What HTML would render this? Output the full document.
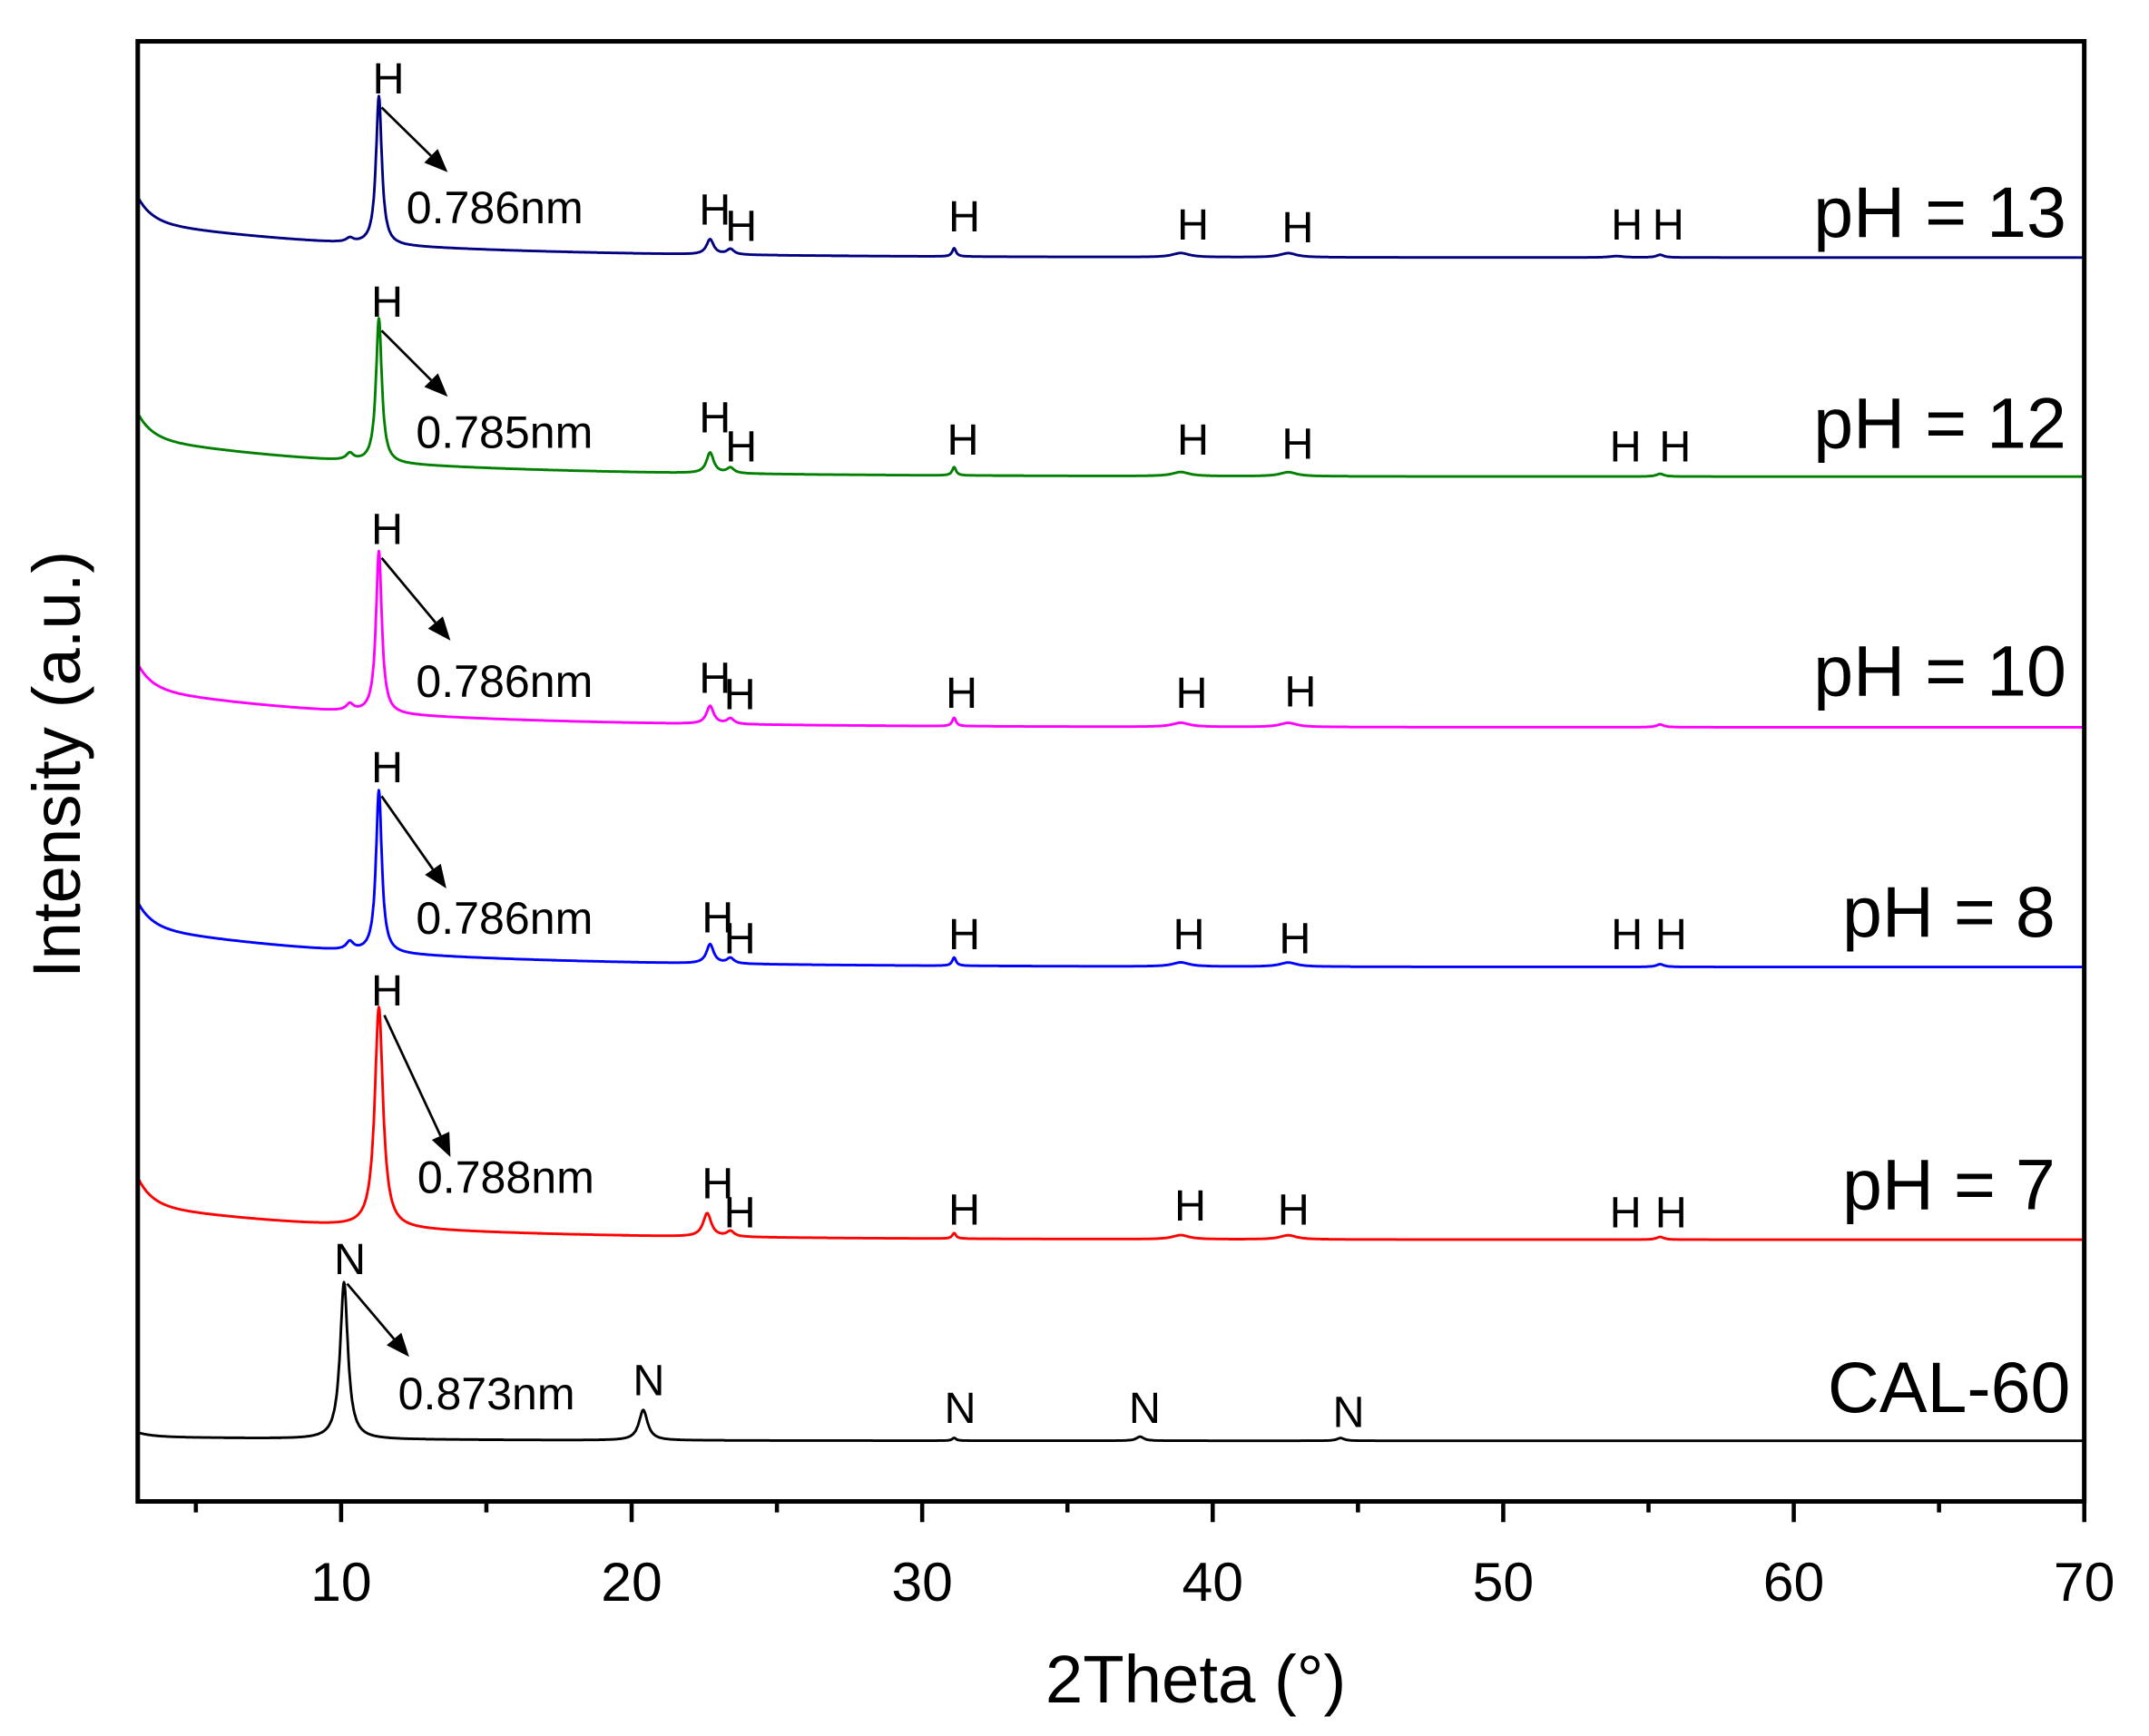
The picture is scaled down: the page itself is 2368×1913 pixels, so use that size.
<!DOCTYPE html>
<html><head><meta charset="utf-8"><style>html,body{margin:0;padding:0;background:#fff}svg{display:block}</style></head>
<body>
<svg id="s" xmlns="http://www.w3.org/2000/svg" width="2368" height="1913" viewBox="0 0 1560 1260.3" preserveAspectRatio="none" font-family="Liberation Sans, Arial, sans-serif">
<rect width="1560" height="1261" fill="#fff"/>
<g id="curves" fill="none" stroke-width="1.9" stroke-linejoin="round"></g>
<g id="ann"></g>
<rect x="100" y="30" width="1413" height="1060" fill="none" stroke="#000" stroke-width="3.3"/>
<g id="ticks" stroke="#000" stroke-width="3"></g>
<g font-size="40" text-anchor="middle" fill="#000">
<text x="247.6" y="1162">10</text><text x="458.5" y="1162">20</text><text x="669.4" y="1162">30</text>
<text x="880.3" y="1162">40</text><text x="1091.2" y="1162">50</text><text x="1302.1" y="1162">60</text><text x="1513" y="1162">70</text>
</g>
<text x="868" y="1236" font-size="49" text-anchor="middle">2Theta (°)</text>
<text transform="translate(58,555) rotate(-90)" font-size="49" text-anchor="middle">Intensity (a.u.)</text>
<g font-size="52" text-anchor="end">
<text x="1500" y="172">pH = 13</text>
<text x="1500" y="325">pH = 12</text>
<text x="1500" y="505">pH = 10</text>
<text x="1492" y="680">pH = 8</text>
<text x="1492" y="878">pH = 7</text>
<text x="1503" y="1025">CAL-60</text>
</g>
</svg>
<script>
var NS="http://www.w3.org/2000/svg";
function X(x){return 100+(x-3)*21.09;}
function el(t,a,p){var e=document.createElementNS(NS,t);for(var k in a)e.setAttribute(k,a[k]);p.appendChild(e);return e;}
var series=[
 {c:"#000080",R:187,A:18,B:26,p:[[11.3,108,0.12],[10.3,3,0.15],[22.7,11,0.15],[23.4,4,0.15],[31.1,6,0.08],[38.9,3,0.35],[42.6,3,0.35],[55.4,2,0.15],[53.9,1,0.3]]},
 {c:"#008000",R:346,A:18,B:28,p:[[11.3,105,0.12],[10.3,5,0.15],[22.7,15,0.15],[23.4,4,0.15],[31.1,6,0.08],[38.9,3,0.35],[42.6,3,0.35],[55.4,2,0.15]]},
 {c:"#ff00ff",R:528,A:18,B:28,p:[[11.3,118,0.12],[10.3,5,0.15],[22.7,13,0.15],[23.4,4,0.15],[31.1,6,0.08],[38.9,3,0.35],[42.6,3,0.35],[55.4,2,0.15]]},
 {c:"#0000ff",R:702,A:18,B:29,p:[[11.3,118,0.12],[10.3,6,0.15],[22.7,14,0.15],[23.4,4,0.15],[31.1,6,0.08],[38.9,3,0.35],[42.6,3,0.35],[55.4,2,0.15]]},
 {c:"#ff0000",R:900,A:20,B:25,p:[[11.3,160,0.17],[22.6,17,0.17],[23.4,4,0.15],[31.1,4,0.08],[38.9,3,0.35],[42.6,3,0.35],[55.4,2,0.15]]},
 {c:"#000000",R:1046,A:3,B:3,p:[[10.1,114,0.16],[20.4,22,0.18],[31.1,2,0.08],[37.5,3,0.15],[44.4,2,0.15]]}
];
var g=document.getElementById("curves");
series.forEach(function(s){
 var d="";
 for(var x=3;x<=70.001;x+=0.02){
  var y=s.R-(s.A*Math.exp(-(x-3)/0.5)+s.B*Math.exp(-(x-3)/8));
  s.p.forEach(function(p){var u=(x-p[0])/p[2];y-=p[1]/(1+u*u);});
  d+=(d?"L":"M")+X(x).toFixed(1)+" "+y.toFixed(1);
 }
 el("path",{d:d,stroke:s.c},g);
});
var t=document.getElementById("ticks");
for(var v=5;v<=70;v+=5){var maj=v%10==0;el("line",{x1:X(v),y1:1090,x2:X(v),y2:1090+(maj?15:8)},t);}
var a=document.getElementById("ann");
function txt(x,y,s,fs,anc){var e=el("text",{x:x,y:y,"font-size":fs,"text-anchor":anc||"middle"},a);e.textContent=s;}
function arrow(x1,y1,x2,y2){
 var dx=x2-x1,dy=y2-y1,L=Math.hypot(dx,dy),ux=dx/L,uy=dy/L,h=17,w=7;
 var bx=x2-ux*h,by=y2-uy*h;
 el("line",{x1:x1,y1:y1,x2:bx,y2:by,stroke:"#000","stroke-width":1.8},a);
 el("polygon",{points:x2+","+y2+" "+(bx-uy*w)+","+(by+ux*w)+" "+(bx+uy*w)+","+(by-ux*w),fill:"#000"},a);
}
var A=[
 {m:[282,68],ar:[277,78,325,125],t:[295,162,"0.786nm"],h:[[519,163],[538,175],[700,168],[866,174],[942,176],[1181,174],[1211,174]]},
 {m:[281,230],ar:[277,240,325,288],t:[302,325,"0.785nm"],h:[[519,314],[538,335],[699,330],[866,330],[942,333],[1180,335],[1216,335]]},
 {m:[281,395],ar:[277,405,327,465],t:[302,506,"0.786nm"],h:[[519,503],[537,515],[698,514],[865,514],[944,513]]},
 {m:[281,568],ar:[277,578,324,645],t:[302,678,"0.786nm"],h:[[521,677],[537,692],[700,689],[863,689],[940,692],[1181,689],[1213,689]]},
 {m:[281,730],ar:[279,737,327,840],t:[303,866,"0.788nm"],h:[[521,870],[537,891],[700,889],[864,886],[939,889],[1180,891],[1213,891]]}
];
A.forEach(function(o){
 txt(o.m[0],o.m[1],"H",32);arrow.apply(null,o.ar);txt(o.t[0],o.t[1],o.t[2],33,"start");
 o.h.forEach(function(h){txt(h[0],h[1],"H",32);});
});
txt(254,925,"N",32);arrow(252,932,297,985);txt(289,1023,"0.873nm",33,"start");
[[471,1013],[697,1033],[831,1033],[979,1036]].forEach(function(h){txt(h[0],h[1],"N",32);});
</script>
</body></html>
